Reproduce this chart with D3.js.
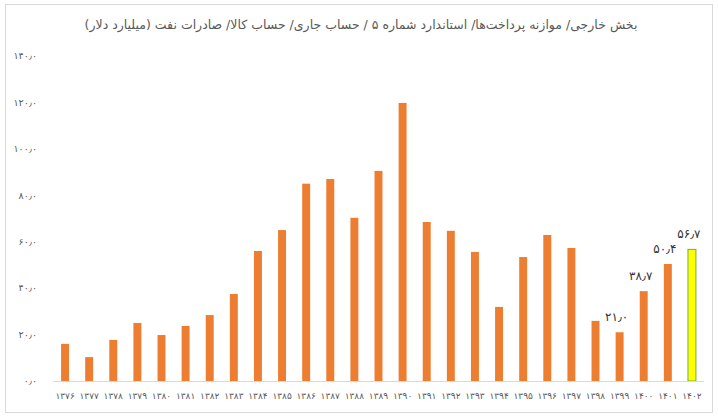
<!DOCTYPE html>
<meta charset="utf-8">
<script src="https://d3js.org/d3.v7.min.js"></script>
<style>
  body { margin: 0; background: #fff; }
  text { font-family: "DejaVu Sans", sans-serif; }
</style>
<div id="chart"></div>
<script>
  // data
  const years = [1376, 1377, 1378, 1379, 1380, 1381, 1382, 1383, 1384, 1385, 1386, 1387, 1388, 1389,
    1390, 1391, 1392, 1393, 1394, 1395, 1396, 1397, 1398, 1399, 1400, 1401, 1402];
  const oilExports = [16.0, 10.3, 17.7, 25.0, 19.8, 23.7, 28.4, 37.5, 56.0, 65.0, 85.0, 87.0, 70.3, 90.5,
    119.8, 68.5, 64.7, 55.6, 31.9, 53.4, 62.9, 57.3, 25.9, 21.0, 38.7, 50.4, 56.7];
  const labelledYears = [1399, 1400, 1401, 1402];
  const yTicks = [0, 20, 40, 60, 80, 100, 120, 140];
  const title = "بخش خارجی/ موازنه پرداخت‌ها/ استاندارد شماره ۵ / حساب جاری/ حساب کالا/ صادرات نفت (میلیارد دلار)";

  const W = 718, H = 416;
  const margin = { top: 56, right: 17, bottom: 35, left: 53 };

  const fa = s => String(s).replace(/\d/g, d => "۰۱۲۳۴۵۶۷۸۹"[d]).replace(".", "٫");
  const fmt = v => fa(v.toFixed(1));

  const svg = d3.select("#chart").append("svg")
    .attr("width", W).attr("height", H);

  // frame
  svg.append("rect")
    .attr("x", 5.5).attr("y", 4.5)
    .attr("width", 707).attr("height", 408)
    .attr("fill", "#fff").attr("stroke", "#d9d9d9");

  const x = d3.scaleBand()
    .domain(years)
    .range([margin.left, W - margin.right + 3])
    .paddingInner(0.67).paddingOuter(0.335);

  const y = d3.scaleLinear()
    .domain([0, 140])
    .range([H - margin.bottom, margin.top]);

  // title
  svg.append("text")
    .attr("x", 361).attr("y", 29)
    .attr("text-anchor", "middle")
    .attr("direction", "rtl")
    .attr("font-size", 12.5)
    .attr("fill", "#595959")
    .text(title);

  // y labels
  svg.append("g").selectAll("text")
    .data(yTicks).join("text")
    .attr("x", 37).attr("y", d => y(d))
    .attr("dy", "0.35em")
    .attr("text-anchor", "end")
    .attr("font-size", 9.5)
    .attr("fill", "#595959")
    .text(d => fmt(d));

  // bars
  svg.append("g").selectAll("rect")
    .data(years).join("rect")
    .attr("x", (d, i) => x(d))
    .attr("y", (d, i) => y(oilExports[i]))
    .attr("width", x.bandwidth())
    .attr("height", (d, i) => y(0) - y(oilExports[i]))
    .attr("fill", d => d === 1402 ? "#ffff00" : "#ed7d31")
    .attr("stroke", d => d === 1402 ? "#70ad47" : "none")
    .attr("stroke-width", 1);

  // baseline
  svg.append("line")
    .attr("x1", x.range()[0]).attr("x2", x.range()[1])
    .attr("y1", y(0) + 0.5).attr("y2", y(0) + 0.5)
    .attr("stroke", "#d9d9d9");

  // x labels
  svg.append("g").selectAll("text")
    .data(years).join("text")
    .attr("x", d => x(d) + x.bandwidth() / 2)
    .attr("y", H - 17)
    .attr("text-anchor", "middle")
    .attr("font-size", 9)
    .attr("fill", "#595959")
    .text(d => fa(d));

  // value labels
  svg.append("g").selectAll("text")
    .data(labelledYears).join("text")
    .attr("x", d => x(d) + x.bandwidth() / 2 - 3)
    .attr("y", d => y(oilExports[years.indexOf(d)]) - 11)
    .attr("text-anchor", "middle")
    .attr("font-size", 12)
    .attr("fill", "#333333")
    .text(d => fmt(oilExports[years.indexOf(d)]));
</script>
